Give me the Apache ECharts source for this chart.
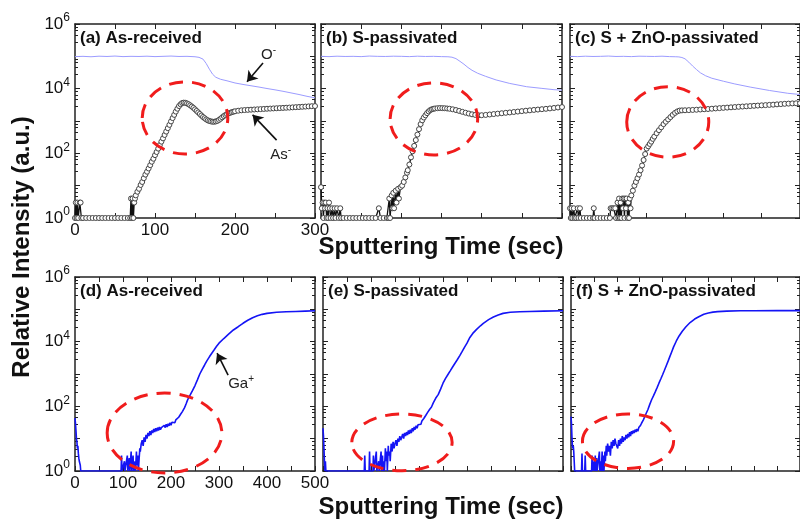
<!DOCTYPE html>
<html>
<head>
<meta charset="utf-8">
<title>Depth profiles</title>
<script src="https://cdn.jsdelivr.net/npm/echarts@6/dist/echarts.min.js"></script>
<style>
  html, body { margin: 0; padding: 0; background: #fff; }
  #chart { width: 800px; height: 521px; }
</style>
</head>
<body>
<div id="chart"></div>
<script>
var FONT = '"Liberation Sans", Arial, Helvetica, sans-serif'

// 上排：As- / O- 信号 (0-300 s)
var asReceivedAs = [[0,1],[1,3],[2,1],[3,3],[4,1],[6,3],[7,3],[8,1],[10,1],[14,1],[18,1],[22,1],[26,1],[30,1],[34,1],[38,1],[42,1],[46,1],[50,1],[54,1],[58,1],[62,1],[66,1],[69,1],[70,4],[71,1],[72,4],[73,1],[74,3],[75,4],[76,5],[78,6.5],[80,8],[82,10.5],[84,13],[86,17],[88,22],[90,27],[92,34],[94,43],[96,55],[98,68],[100,88],[102,110],[104,140],[106,180],[108,230],[110,290],[112,370],[114,470],[116,600],[118,760],[120,970],[122,1230],[124,1550],[126,1950],[128,2400],[130,2900],[132,3300],[134,3600],[136,3700],[138,3650],[140,3500],[142,3300],[144,3050],[146,2800],[148,2550],[150,2300],[152,2050],[154,1850],[156,1650],[158,1480],[160,1330],[162,1220],[164,1120],[166,1050],[168,1000],[170,970],[172,950],[174,950],[176,970],[178,1010],[180,1080],[182,1180],[184,1300],[186,1420],[188,1530],[190,1630],[192,1720],[194,1800],[196,1870],[198,1940],[200,2000],[204,2080],[208,2140],[212,2180],[216,2210],[220,2240],[224,2270],[228,2300],[232,2330],[236,2360],[240,2390],[244,2420],[248,2450],[252,2480],[256,2510],[260,2540],[264,2570],[268,2600],[272,2640],[276,2680],[280,2710],[284,2750],[288,2790],[292,2830],[296,2870],[300,2900]]
var asReceivedO = [[0,98000],[10,100000],[20,97000],[30,101000],[40,99000],[50,102000],[60,98000],[70,100000],[80,99000],[90,101000],[100,98000],[110,100000],[120,102000],[130,99000],[140,100000],[150,97000],[155,93000],[160,82000],[164,60000],[168,40000],[172,28000],[176,22500],[182,19500],[190,17500],[200,15000],[210,13500],[220,12300],[230,11200],[240,10100],[250,9200],[260,8300],[270,7400],[280,6600],[290,5800],[300,5200]]

var sPassAs = [[0,9],[1,2],[2,3],[3,1],[4,3],[5,2],[6,3],[7,1],[8,2],[9,1],[10,3],[11,2],[12,1],[14,2],[15,1],[17,2],[18,1],[20,2],[22,1],[24,2],[25,1],[28,1],[32,1],[36,1],[40,1],[44,1],[48,1],[52,1],[56,1],[60,1],[64,1],[68,1],[72,2],[74,1],[78,1],[82,1],[84,1],[85,4],[86,1],[88,5],[89,2],[90,6],[91,2],[93,7],[94,3],[96,8],[97,4],[99,9],[101,10],[103,13],[105,18],[107,25],[108,30],[110,45],[112,75],[114,115],[116,170],[118,257],[120,380],[122,560],[124,800],[126,1050],[128,1280],[130,1500],[132,1750],[134,1980],[136,2180],[138,2300],[140,2380],[142,2440],[145,2490],[148,2510],[151,2500],[154,2480],[157,2440],[160,2390],[164,2300],[168,2180],[172,2050],[176,1920],[180,1800],[184,1700],[188,1610],[192,1540],[196,1500],[200,1510],[205,1540],[210,1590],[215,1640],[220,1690],[225,1740],[230,1790],[235,1840],[240,1900],[245,1960],[250,2020],[255,2080],[260,2140],[265,2200],[270,2260],[275,2320],[280,2380],[285,2450],[290,2530],[295,2620],[300,2700]]
var sPassO = [[0,100000],[10,98000],[20,101000],[30,99000],[40,100000],[50,98000],[60,102000],[70,100000],[80,99000],[90,101000],[100,100000],[110,98000],[120,101000],[130,99000],[140,100000],[150,98000],[158,97000],[163,94000],[168,85000],[173,70000],[178,57000],[183,45000],[188,37000],[195,30000],[205,24000],[218,18600],[235,14500],[256,11500],[275,10200],[290,9300],[300,9000]]

var znoPassAs = [[0,2],[1,1],[2,2],[3,1],[5,2],[6,1],[8,1],[10,2],[11,1],[13,2],[14,1],[18,1],[22,1],[26,1],[30,1],[31,2],[32,1],[36,1],[40,1],[44,1],[48,1],[52,1],[53,2],[55,2],[57,2],[59,2],[60,1],[62,3],[63,1],[64,4],[65,1],[66,3],[67,1],[68,4],[69,2],[70,4],[71,1],[72,4],[73,2],[74,4],[75,1],[76,3],[77,1],[78,4],[79,2],[80,5],[82,7],[84,10],[86,13],[88,17],[90,22],[92,30],[94,42],[96,62],[98,95],[100,140],[102,165],[104,195],[106,230],[108,280],[110,330],[113,420],[116,520],[119,640],[122,800],[125,950],[128,1120],[131,1320],[134,1550],[137,1780],[140,1980],[143,2100],[146,2130],[150,2150],[155,2170],[160,2200],[165,2230],[170,2270],[175,2310],[180,2350],[185,2400],[190,2450],[195,2500],[200,2550],[205,2600],[210,2650],[215,2700],[220,2750],[225,2800],[230,2850],[235,2900],[240,2950],[245,3000],[250,3050],[255,3100],[260,3150],[265,3200],[270,3270],[275,3330],[280,3400],[285,3450],[290,3500],[295,3530],[300,3550]]
var znoPassO = [[0,100000],[10,98000],[20,101000],[30,99000],[40,100000],[50,102000],[60,99000],[70,100000],[80,98000],[90,101000],[100,100000],[110,99000],[120,101000],[130,98000],[138,97000],[142,96000],[146,92000],[150,84000],[155,66000],[160,50000],[165,39000],[170,31000],[177,25000],[185,21000],[200,17000],[215,14000],[235,11200],[260,8800],[284,7200],[300,6600]]

// 下排：Ga+ 信号 (0-500 s)
var asReceivedGa = [[0,43],[1,30],[2,18],[3,10],[4,8],[5,5],[6,6],[7,3.5],[8,2.5],[9,2],[10,2],[11,1.5],[12,1],[20,1],[40,1],[60,1],[80,1],[96,1],[97,3],[98,1],[102,1],[103,2],[104,1],[108,1],[109,3],[110,1],[112,1],[113,2.5],[114,1],[116,1],[117,4],[118,1],[120,1],[121,3],[122,1],[124,1],[125,2],[126,1],[128,4],[129,1.5],[131,3],[132,1],[134,1],[135,5],[136,4],[138,7],[140,9],[142,6],[144,11],[146,8],[148,13],[150,10],[152,15],[154,12],[156,17],[158,13],[160,18],[162,15],[164,20],[166,16],[168,21],[170,17],[172,22],[174,18],[176,23],[178,19],[180,22],[182,25],[184,20],[186,26],[188,22],[190,28],[192,23],[194,29],[196,25],[198,31],[200,26],[202,32],[204,28],[206,34],[208,31],[210,38],[212,36],[214,43],[216,46],[218,52],[220,57],[222,62],[224,70],[226,78],[228,90],[230,105],[232,125],[234,150],[236,175],[238,200],[240,225],[245,310],[250,440],[255,660],[260,1000],[265,1400],[270,1900],[275,2600],[280,3400],[285,4400],[290,5600],[295,7200],[300,9000],[310,12500],[320,17000],[330,23000],[340,29000],[350,37000],[360,46000],[370,55000],[380,63000],[390,70000],[400,75000],[420,81000],[440,84000],[460,86000],[480,88000],[500,90000]]
var sPassGa = [[0,21],[1,12],[2,5],[3,2],[4,1],[5,2],[6,1],[10,1],[30,1],[50,1],[70,1],[86,1],[87,3],[88,1],[96,1],[97,4],[98,1],[104,1],[105,3],[106,1],[110,1],[111,4],[112,1],[116,2],[117,1],[120,1],[121,4],[122,1],[124,3],[125,1],[127,2],[128,1],[130,5],[131,2],[133,4],[134,1],[136,6],[137,3],[139,4],[140,2],[142,7],[144,4],[146,8],[148,5],[150,7],[152,9],[154,6],[156,10],[158,8],[160,12],[162,9],[164,11],[166,14],[168,10],[170,15],[172,12],[174,16],[176,13],[178,18],[180,14],[182,19],[184,15],[186,21],[188,17],[190,23],[192,19],[194,25],[196,21],[198,27],[200,24],[202,30],[204,28],[206,35],[208,32],[210,42],[212,45],[214,52],[216,55],[218,65],[220,70],[222,80],[224,88],[226,95],[230,130],[235,180],[240,230],[245,340],[250,520],[255,720],[260,950],[265,1250],[270,1650],[275,2150],[280,2800],[285,3700],[290,5000],[295,6800],[300,9000],[306,13500],[312,18000],[320,24000],[328,31000],[334,37000],[345,48000],[355,58000],[365,67000],[375,75000],[390,81000],[410,84000],[430,86000],[460,88000],[500,90000]]
var znoPassGa = [[0,48],[1,30],[2,12],[3,6],[4,5],[5,6],[6,4],[7,2],[8,1],[15,1],[23,1],[24,3.5],[25,1],[30,1],[31,3],[32,1],[40,1],[45,1],[46,3],[47,1],[50,2],[51,1],[53,3],[54,1],[56,2.5],[57,1],[60,1],[62,4],[63,1],[65,2],[66,1],[68,4],[69,1],[71,3],[72,1],[74,4],[75,2],[77,6],[78,3],[80,7],[82,4],[84,6],[86,3],[88,8],[90,5],[92,9],[94,6],[96,10],[98,7],[100,8],[102,5],[104,9],[106,6],[108,10],[110,7],[112,12],[114,8],[116,11],[118,9],[120,13],[122,10],[124,14],[126,11],[128,16],[130,12],[132,17],[134,14],[136,18],[138,15],[140,19],[142,16],[144,20],[146,17],[148,22],[150,24],[152,26],[154,30],[156,34],[158,38],[160,42],[164,60],[168,80],[172,115],[176,160],[180,210],[184,280],[188,380],[192,520],[196,700],[200,950],[204,1300],[208,1800],[212,2500],[216,3500],[220,4900],[224,6900],[230,10500],[236,15000],[243,21000],[251,29000],[260,39000],[270,50000],[279,59000],[290,70000],[300,77000],[310,82000],[320,85000],[340,88000],[370,90000],[400,90000],[450,91000],[500,91000]]

// 红色虚线圈 [x1, y1, x2, y2]
var ellipseA = [84, 95, 191, 16200]
var ellipseB = [86, 89, 195, 15100]
var ellipseC = [74, 76, 181, 11500]
var ellipseD = [67, 0.87, 306, 257]
var ellipseE = [60, 1.02, 269, 58]
var ellipseF = [25, 1.2, 224, 58]

var panelNames = ['(a) As-received', '(b) S-passivated', '(c) S + ZnO-passivated',
  '(d) As-received', '(e) S-passivated', '(f) S + ZnO-passivated']
var xMaxTop = 300
var xMaxBottom = 500

// 布局
var grids = [
  { left: 75, top: 24, width: 240, height: 194 },
  { left: 321, top: 24, width: 241, height: 194 },
  { left: 570, top: 24, width: 243, height: 194 },
  { left: 75, top: 277, width: 240, height: 194 },
  { left: 323, top: 277, width: 240, height: 194 },
  { left: 571, top: 277, width: 243, height: 194 }
]

var supRich = {
  b: { fontSize: 17, lineHeight: 24, fontFamily: FONT, color: '#111' },
  s: { fontSize: 12, lineHeight: 12, verticalAlign: 'top', fontFamily: FONT, color: '#111' }
}

function xAxisFor(i, pos, showLabel) {
  var max = i < 3 ? xMaxTop : xMaxBottom
  return {
    gridIndex: i, type: 'value', position: pos, min: 0, max: max, interval: 50,
    axisLine: { onZero: false, lineStyle: { color: '#222', width: 1.5 } },
    axisTick: { inside: true, length: 5, lineStyle: { color: '#222', width: 1 } },
    splitLine: { show: false },
    axisLabel: {
      show: showLabel, margin: 4, fontSize: 17, color: '#111', fontFamily: FONT,
      formatter: function (v) { return v % 100 === 0 ? String(v) : '' }
    }
  }
}

function yAxisFor(i, pos, showLabel) {
  return {
    gridIndex: i, type: 'log', logBase: 10, position: pos, min: 1, max: 1e6, splitNumber: 6,
    axisLine: { onZero: false, lineStyle: { color: '#222', width: 1.5 } },
    axisTick: { inside: true, length: 5, lineStyle: { color: '#222', width: 1 } },
    minorTick: { show: true, splitNumber: 5, length: 3, lineStyle: { color: '#222' } },
    splitLine: { show: false },
    axisLabel: {
      show: showLabel, margin: 5, fontFamily: FONT,
      formatter: function (v) {
        var e = Math.round(Math.log(v) / Math.LN10)
        return e % 2 === 0 ? '{b|10}{s|' + e + '}' : ''
      },
      rich: supRich
    }
  }
}

function asSeries(i, data) {
  return {
    type: 'line', xAxisIndex: 2 * i, yAxisIndex: 2 * i, data: data,
    symbol: 'circle', symbolSize: 5, showAllSymbol: true,
    lineStyle: { color: '#111', width: 1.3 },
    itemStyle: { color: '#fff', borderColor: '#444', borderWidth: 1 },
    z: 3
  }
}

function oSeries(i, data) {
  return {
    type: 'line', xAxisIndex: 2 * i, yAxisIndex: 2 * i, data: data, showSymbol: false,
    lineStyle: { color: '#9c9cff', width: 1 }, z: 2
  }
}

function gaSeries(i, data) {
  return {
    type: 'line', xAxisIndex: 2 * i, yAxisIndex: 2 * i, data: data, showSymbol: false,
    lineStyle: { color: '#1414f5', width: 1.6 }, z: 2
  }
}

//红色虚线椭圆
function ellipseSeries(i, box) {
  return {
    type: 'custom', xAxisIndex: 2 * i, yAxisIndex: 2 * i, data: [box], silent: true, z: 5,
    renderItem: function (params, api) {
      var p1 = api.coord([api.value(0), api.value(1)])
      var p2 = api.coord([api.value(2), api.value(3)])
      return {
        type: 'ellipse',
        shape: {
          cx: (p1[0] + p2[0]) / 2, cy: (p1[1] + p2[1]) / 2,
          rx: Math.abs(p2[0] - p1[0]) / 2, ry: Math.abs(p2[1] - p1[1]) / 2
        },
        style: { fill: 'none', stroke: '#f01c1c', lineWidth: 3, lineDash: [14, 9] }
      }
    }
  }
}

function arrow(from, to) {
  return {
    silent: true, symbol: ['none', 'arrow'], symbolSize: 10, animation: false,
    lineStyle: { color: '#111', width: 1.6, type: 'solid' },
    label: { show: false },
    data: [[{ coord: from }, { coord: to }]]
  }
}

function tag(coord, text) {
  return {
    silent: true, symbol: 'circle', symbolSize: 1, itemStyle: { color: 'rgba(0,0,0,0)' },
    label: {
      show: true, position: 'inside', formatter: text,
      rich: {
        b: { fontSize: 15, lineHeight: 19, fontFamily: FONT, color: '#222' },
        s: { fontSize: 10, lineHeight: 10, verticalAlign: 'top', fontFamily: FONT, color: '#222' }
      }
    },
    data: [{ coord: coord }]
  }
}

var xAxes = []
var yAxes = []
for (var i = 0; i < 6; i++) {
  var lab = i === 0 || i === 3
  xAxes.push(xAxisFor(i, 'bottom', lab), xAxisFor(i, 'top', false))
  yAxes.push(yAxisFor(i, 'left', lab), yAxisFor(i, 'right', false))
}

var sA = asSeries(0, asReceivedAs)
sA.markLine = arrow([252, 257], [222, 1550])
sA.markPoint = tag([257, 89], '{b|As}{s|-}')
var oA = oSeries(0, asReceivedO)
oA.markLine = arrow([235, 62000], [215, 16300])
oA.markPoint = tag([242, 110000], '{b|O}{s|-}')
var gD = gaSeries(3, asReceivedGa)
gD.markLine = arrow([319, 930], [296, 4400])
gD.markPoint = tag([346, 490], '{b|Ga}{s|+}')

var series = [
  oA, sA, ellipseSeries(0, ellipseA),
  oSeries(1, sPassO), asSeries(1, sPassAs), ellipseSeries(1, ellipseB),
  oSeries(2, znoPassO), asSeries(2, znoPassAs), ellipseSeries(2, ellipseC),
  gD, ellipseSeries(3, ellipseD),
  gaSeries(4, sPassGa), ellipseSeries(4, ellipseE),
  gaSeries(5, znoPassGa), ellipseSeries(5, ellipseF)
]

var graphic = panelNames.map(function (name, k) {
  return {
    type: 'text', x: grids[k].left + 5, y: grids[k].top + 14, silent: true,
    style: { text: name, font: 'bold 17px ' + FONT, fill: '#111', textVerticalAlign: 'middle' }
  }
})
graphic.push(
  { type: 'text', x: 441, y: 247, silent: true,
    style: { text: 'Sputtering Time (sec)', font: 'bold 24px ' + FONT, fill: '#111', textAlign: 'center', textVerticalAlign: 'middle' } },
  { type: 'text', x: 441, y: 507, silent: true,
    style: { text: 'Sputtering Time (sec)', font: 'bold 24px ' + FONT, fill: '#111', textAlign: 'center', textVerticalAlign: 'middle' } },
  { type: 'text', x: 22, y: 247, rotation: Math.PI / 2, silent: true,
    style: { text: 'Relative Intensity (a.u.)', font: 'bold 24px ' + FONT, fill: '#111', textAlign: 'center', textVerticalAlign: 'middle' } }
)

var myChart = echarts.init(document.getElementById('chart'))
myChart.setOption({
  animation: false,
  backgroundColor: '#fff',
  grid: grids,
  xAxis: xAxes,
  yAxis: yAxes,
  series: series,
  graphic: graphic
})
</script>
</body>
</html>
